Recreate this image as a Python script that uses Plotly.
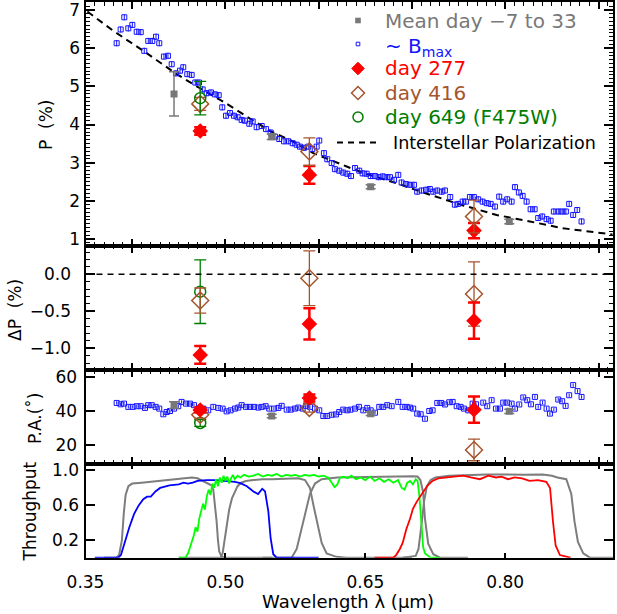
import plotly.graph_objects as go

# ---------------- data ----------------
bmax_lam = [0.3834,0.3877,0.3916,0.3959,0.4002,0.4049,0.4092,0.4130,0.4173,0.4216,
            0.4256,0.4291,0.4341,0.4384,0.4424,0.4470,0.4513,0.4548,0.4591,0.4638,
            0.4677,0.4717,0.4756,0.4799,0.4845,0.4888,0.4928,0.4966,0.5006,0.5049,
            0.5092,0.5131,0.5174,0.5209,0.5256,0.5292,0.5335,0.5389,0.5435,0.5485,
            0.5531,0.5577,0.5628,0.5674,0.5721,0.5764,0.5799,0.5842,0.5888,0.5931,
            0.5978,0.6006,0.6056,0.6092,
            0.6139,0.6174,0.6220,0.6263,0.6306,0.6346,0.6389,0.6435,0.6471,0.6514,
            0.6557,0.6603,0.6643,0.6686,0.6728,0.6764,0.6807,0.6853,0.6889,0.6935,
            0.6978,0.7021,0.7056,0.7103,0.7150,0.7192,0.7228,0.7271,0.7318,0.7353,
            0.7410,0.7460,0.7496,0.7543,0.7578,0.7621,0.7664,0.7710,0.7757,0.7800,
            0.7843,0.7889,0.7935,0.7978,0.8021,0.8068,0.8104,0.8146,0.8186,0.8229,
            0.8272,0.8315,0.8353,0.8396,0.8443,0.8486,0.8521,0.8568,0.8610,0.8650,
            0.8685,0.8728,0.8771,0.8818]
bmax_p = [6.13,6.49,6.81,6.52,6.61,6.43,6.42,5.93,6.19,6.19,
          6.30,6.13,5.78,5.80,5.58,5.34,5.41,5.50,5.32,5.30,
          5.10,5.10,4.92,4.82,4.84,4.79,4.77,4.45,4.23,4.30,
          4.23,4.19,4.12,4.10,4.02,4.08,3.93,3.96,3.88,3.79,
          3.68,3.62,3.56,3.56,3.51,3.47,3.42,3.39,3.42,3.36,
          3.42,3.58,3.25,3.09,
          2.99,2.83,2.79,2.74,2.71,2.65,2.86,2.79,2.72,2.71,
          2.65,2.65,2.62,2.64,2.62,2.62,2.55,2.68,2.48,2.44,
          2.42,2.42,2.24,2.27,2.29,2.31,2.24,2.27,2.24,2.27,
          2.10,1.90,1.92,1.98,1.98,2.10,2.10,2.04,1.98,1.94,
          1.92,1.85,2.11,1.98,2.04,1.98,2.36,2.22,2.13,1.98,
          1.78,1.78,1.55,1.59,1.52,1.48,1.72,1.72,1.72,1.72,
          1.92,1.63,1.76,1.46]

pa_lam = [0.3834,0.3877,0.3913,0.3959,0.4006,0.4049,0.4092,0.4138,0.4173,0.4210,
          0.4252,0.4291,0.4334,0.4370,0.4406,0.4449,0.4495,
          0.4530,0.4577,0.4620,0.4663,0.4709,0.4763,0.4816,0.4870,0.4923,0.4970,
          0.5013,0.5056,0.5102,0.5138,0.5174,0.5220,0.5263,0.5306,0.5352,0.5389,
          0.5431,0.5470,0.5520,0.5567,0.5603,0.5657,0.5700,0.5745,0.5781,0.5828,
          0.5863,0.5906,0.5960,0.6006,0.6049,0.6092,0.6139,0.6185,0.6220,0.6263,
          0.6306,0.6342,0.6389,0.6431,0.6478,0.6520,0.6557,0.6603,0.6649,0.6692,
          0.6735,0.6782,0.6853,0.6900,0.6943,
          0.6978,0.7013,0.7056,0.7093,0.7139,0.7185,0.7221,0.7271,0.7314,0.7353,
          0.7400,0.7436,0.7479,0.7521,0.7557,0.7603,0.7650,0.7686,0.7764,0.7807,
          0.7854,0.7900,0.7943,0.7978,0.8021,0.8068,0.8104,0.8150,0.8193,0.8236,
          0.8275,0.8318,0.8353,0.8400,0.8443,0.8479,0.8521,0.8568,0.8610,0.8647,
          0.8685,0.8728,0.8775,0.8818]
pa_val = [44.7,43.9,44.3,42.4,42.4,42.8,42.8,41.8,43.4,43.4,
          42.4,41.4,38.1,39.4,40.0,41.4,42.8,
          45.3,44.3,44.3,43.4,41.4,41.4,40.4,42.4,41.8,41.4,
          39.8,40.4,41.4,42.0,43.4,42.4,42.4,42.4,42.0,42.4,
          42.8,41.4,41.4,41.8,43.0,40.8,40.8,41.4,42.0,41.4,
          43.0,42.4,41.4,40.4,37.1,37.1,37.8,38.0,39.4,40.8,
          40.4,40.8,41.4,42.4,40.4,41.8,40.4,39.0,42.4,42.4,
          43.4,42.8,45.3,42.4,42.4,
          42.0,41.4,38.5,38.1,35.5,40.0,40.4,44.7,44.7,43.8,
          45.1,45.3,42.8,42.4,41.4,40.4,44.3,43.9,44.9,42.8,
          46.3,41.4,41.4,44.9,44.9,44.3,41.4,43.8,47.9,46.3,
          43.9,48.2,42.4,44.9,41.4,38.5,40.8,46.7,45.7,43.0,
          49.2,55.1,51.6,48.2]

mean_lam = [0.4449, 0.5496, 0.6557, 0.8043]
mean_p = [4.80, 3.68, 2.37, 1.46]
mean_p_err = [0.58, 0.07, 0.05, 0.06]
mean_pa = [43.4, 37.1, 38.4, 39.8]
mean_pa_err = [2.0, 1.0, 1.0, 1.2]

late_lam = [0.473, 0.590, 0.7665]
d277_p = [3.83, 2.68, 1.22]
d277_p_err = [0.10, 0.23, 0.20]
d416_p = [4.54, 3.29, 1.59]
d416_p_err = [0.17, 0.36, 0.43]
d649_lam = [0.473]
d649_p = [4.69]
d649_p_err = [0.44]

d277_dp = [-1.09, -0.67, -0.627]
d277_dp_err = [0.12, 0.21, 0.245]
d416_dp = [-0.355, -0.054, -0.266]
d416_dp_err = [0.17, 0.37, 0.435]
d649_dp = [-0.235]
d649_dp_err = [0.43]

d277_pa = [40.6, 47.6, 40.8]
d277_pa_err = [1.5, 2.0, 7.6]
d416_pa = [37.8, 41.8, 17.3]
d416_pa_err = [2.0, 2.4, 6.3]
d649_pa = [33.0]
d649_pa_err = [2.0]

isp_lam = [0.352, 0.380, 0.412, 0.4477, 0.4727, 0.4977, 0.5228, 0.5478, 0.5727,
           0.5942, 0.630, 0.6478, 0.6836, 0.7192, 0.755, 0.7907, 0.8264, 0.862,
           0.905, 0.915]
isp_p = [6.96, 6.45, 5.93, 5.32, 4.95, 4.60, 4.21, 3.83, 3.55,
         3.25, 2.90, 2.73, 2.46, 2.16, 1.88, 1.63, 1.46, 1.28,
         1.15, 1.12]

# filter throughputs
blue_lam = [0.360,0.385,0.388,0.392,0.397,0.402,0.407,0.412,0.416,0.420,
            0.425,0.430,0.440,0.450,0.455,0.460,0.465,0.470,0.480,0.490,
            0.500,0.505,0.510,0.516,0.523,0.530,0.535,0.5395,0.5425,0.546,
            0.5485,0.5513,0.555,0.600]
blue_t = [0.0,0.0,0.03,0.18,0.35,0.5,0.6,0.67,0.70,0.70,
          0.76,0.80,0.83,0.84,0.86,0.85,0.86,0.88,0.89,0.89,
          0.88,0.875,0.87,0.855,0.82,0.76,0.73,0.79,0.76,0.53,
          0.22,0.04,0.0,0.0]
green_lam = [0.450,0.457,0.460,0.463,0.466,0.468,0.470,0.472,0.474,0.476,
             0.478,0.480,0.482,0.484,0.486,0.488,0.490,0.492,0.494,0.496,
             0.498,0.500,0.502,0.504,0.506,0.508,0.510,0.513,0.516,0.520,
             0.525,0.530,0.535,0.540,0.545,0.550,0.555,0.560,0.565,0.570,
             0.575,0.580,0.585,0.590,0.595,0.600,0.605,0.610,0.614,0.617,
             0.620,0.623,0.627,0.631,0.635,0.640,0.645,0.650,0.655,0.660,
             0.665,0.670,0.675,0.680,0.685,0.689,0.692,0.695,0.698,0.701,
             0.704,0.706,0.708,0.710,0.712,0.714,0.717,0.720,0.730]
green_t = [0.0,0.0,0.05,0.15,0.25,0.35,0.30,0.45,0.55,0.62,
           0.55,0.70,0.78,0.72,0.85,0.80,0.90,0.82,0.92,0.86,
           0.94,0.88,0.93,0.85,0.91,0.95,0.90,0.94,0.92,0.95,
           0.93,0.94,0.96,0.93,0.95,0.94,0.96,0.93,0.95,0.94,
           0.95,0.93,0.95,0.94,0.95,0.93,0.94,0.92,0.86,0.81,
           0.84,0.92,0.93,0.91,0.94,0.90,0.92,0.89,0.93,0.88,
           0.91,0.87,0.90,0.86,0.89,0.80,0.78,0.86,0.88,0.84,
           0.90,0.88,0.70,0.35,0.12,0.05,0.02,0.0,0.0]
red_lam = [0.660,0.680,0.683,0.687,0.690,0.694,0.698,0.701,0.705,0.709,
           0.713,0.717,0.722,0.728,0.735,0.745,0.755,0.763,0.7728,0.7818,
           0.790,0.796,0.803,0.810,0.818,0.826,0.835,0.844,0.848,0.8512,
           0.854,0.8586,0.870]
red_t = [0.0,0.0,0.03,0.1,0.17,0.33,0.45,0.56,0.64,0.71,
         0.77,0.83,0.88,0.91,0.92,0.93,0.94,0.92,0.90,0.94,
         0.92,0.93,0.90,0.92,0.91,0.88,0.89,0.87,0.80,0.41,
         0.14,0.03,0.0]
g1_lam = [0.370,0.383,0.386,0.389,0.391,0.393,0.396,0.400,0.410,0.420,
          0.430,0.440,0.450,0.458,0.464,0.470,0.476,0.4816,0.485,0.487,
          0.489,0.4906,0.492,0.4934,0.496,0.500,0.550]
g1_t = [0.0,0.0,0.03,0.2,0.5,0.72,0.82,0.85,0.86,0.87,
        0.88,0.89,0.90,0.91,0.92,0.91,0.88,0.855,0.83,0.78,
        0.6,0.41,0.2,0.07,0.01,0.0,0.0]
g2_lam = [0.450,0.495,0.497,0.499,0.501,0.504,0.507,0.510,0.513,0.517,
          0.522,0.530,0.540,0.550,0.560,0.570,0.578,0.5853,0.5906,0.5942,
          0.5985,0.6032,0.6085,0.619,0.630,0.700]
g2_t = [0.0,0.0,0.05,0.2,0.38,0.55,0.68,0.76,0.82,0.86,
        0.88,0.89,0.90,0.90,0.905,0.91,0.91,0.89,0.80,0.61,
        0.38,0.17,0.05,0.01,0.0,0.0]
g3_lam = [0.540,0.571,0.5764,0.5807,0.5853,0.5906,0.596,0.6032,0.620,0.640,
          0.660,0.680,0.700,0.706,0.709,0.712,0.7139,0.7174,0.7228,0.730,0.760]
g3_t = [0.0,0.0,0.1,0.29,0.52,0.73,0.85,0.90,0.92,0.925,
        0.93,0.935,0.935,0.93,0.89,0.75,0.45,0.16,0.04,0.0,0.0]
g4_lam = [0.690,0.704,0.707,0.709,0.711,0.713,0.716,0.720,0.725,0.740,
          0.760,0.780,0.800,0.820,0.840,0.850,0.856,0.8654,0.8708,0.8743,
          0.8779,0.8836,0.8908,0.905,0.916]
g4_t = [0.0,0.02,0.1,0.25,0.45,0.65,0.82,0.89,0.92,0.94,
        0.95,0.955,0.955,0.95,0.955,0.94,0.92,0.90,0.73,0.41,
        0.18,0.05,0.0,0.0,0.0]

x_ticks = [0.35, 0.50, 0.65, 0.80]

legend_labels = ["Mean day \u22127 to 33", "~ B<sub>max</sub>", "day 277", "day 416",
                 "day 649 (F475W)", "Interstellar Polarization"]

# ---------------- styling ----------------
W, H = 617, 614
FONT = "DejaVu Sans"
BLUE = "rgb(20,20,255)"
RED = "rgb(255,0,0)"
BROWN = "rgb(165,85,45)"
GREEN = "rgb(0,125,0)"
GRAY = "rgb(120,120,120)"
FGRAY = "rgb(125,125,125)"
LIME = "rgb(0,255,0)"

def px_x(p):
    return p / W

def px_y(p):
    return 1 - p / H

xdom = [px_x(85.5), px_x(613)]
dom_top = [px_y(245.5), px_y(2)]
dom_dp = [px_y(370), px_y(245.5)]
dom_pa = [px_y(463.5), px_y(370)]
dom_th = [px_y(557.7), px_y(463.5)]
XR = [0.35, 0.9155]

fig = go.Figure()

def err(vals, color, thick, width):
    return dict(type="data", array=vals, visible=True, color=color,
                thickness=thick, width=width)

# ---- top panel ----
fig.add_trace(go.Scatter(x=isp_lam, y=isp_p, mode="lines",
    line=dict(color="black", width=2, dash="7px,5px"), xaxis="x", yaxis="y"))
fig.add_trace(go.Scatter(x=bmax_lam, y=bmax_p, mode="markers",
    marker=dict(symbol="square-open", size=5, color=BLUE, line=dict(width=1, color=BLUE)),
    error_y=dict(type="constant", value=0.08, color=BLUE, thickness=1, width=0),
    xaxis="x", yaxis="y"))
fig.add_trace(go.Scatter(x=mean_lam, y=mean_p, mode="markers",
    marker=dict(symbol="square", size=7, color=GRAY),
    error_y=err(mean_p_err, GRAY, 1.5, 5), xaxis="x", yaxis="y"))
fig.add_trace(go.Scatter(x=late_lam, y=d277_p, mode="markers",
    marker=dict(symbol="diamond", size=12, color=RED),
    error_y=err(d277_p_err, RED, 2.5, 6), xaxis="x", yaxis="y"))
fig.add_trace(go.Scatter(x=late_lam, y=d416_p, mode="markers",
    marker=dict(symbol="diamond-open", size=13, color=BROWN, line=dict(width=1.5, color=BROWN)),
    error_y=err(d416_p_err, BROWN, 1.3, 6), xaxis="x", yaxis="y"))
fig.add_trace(go.Scatter(x=d649_lam, y=d649_p, mode="markers",
    marker=dict(symbol="circle-open", size=11, color=GREEN, line=dict(width=1.5, color=GREEN)),
    error_y=err(d649_p_err, GREEN, 1.3, 6), xaxis="x", yaxis="y"))

# ---- delta P panel ----
fig.add_trace(go.Scatter(x=d649_lam, y=d649_dp, mode="markers",
    marker=dict(symbol="circle-open", size=11, color=GREEN, line=dict(width=1.5, color=GREEN)),
    error_y=err(d649_dp_err, GREEN, 1.3, 6), xaxis="x2", yaxis="y2"))
fig.add_trace(go.Scatter(x=late_lam, y=d416_dp, mode="markers",
    marker=dict(symbol="diamond-open", size=13, color=BROWN, line=dict(width=1.5, color=BROWN)),
    error_y=err(d416_dp_err, BROWN, 1.3, 6), xaxis="x2", yaxis="y2"))
fig.add_trace(go.Scatter(x=late_lam, y=d277_dp, mode="markers",
    marker=dict(symbol="diamond", size=12, color=RED),
    error_y=err(d277_dp_err, RED, 2.5, 6), xaxis="x2", yaxis="y2"))

# ---- PA panel ----
fig.add_trace(go.Scatter(x=pa_lam, y=pa_val, mode="markers",
    marker=dict(symbol="square-open", size=5, color=BLUE, line=dict(width=1, color=BLUE)),
    error_y=dict(type="constant", value=1.0, color=BLUE, thickness=1, width=0),
    xaxis="x3", yaxis="y3"))
fig.add_trace(go.Scatter(x=mean_lam, y=mean_pa, mode="markers",
    marker=dict(symbol="square", size=7, color=GRAY),
    error_y=err(mean_pa_err, GRAY, 1.5, 5), xaxis="x3", yaxis="y3"))
fig.add_trace(go.Scatter(x=d649_lam, y=d649_pa, mode="markers",
    marker=dict(symbol="circle-open", size=11, color=GREEN, line=dict(width=1.5, color=GREEN)),
    error_y=err(d649_pa_err, GREEN, 1.3, 6), xaxis="x3", yaxis="y3"))
fig.add_trace(go.Scatter(x=late_lam, y=d416_pa, mode="markers",
    marker=dict(symbol="diamond-open", size=13, color=BROWN, line=dict(width=1.5, color=BROWN)),
    error_y=err(d416_pa_err, BROWN, 1.3, 6), xaxis="x3", yaxis="y3"))
fig.add_trace(go.Scatter(x=late_lam, y=d277_pa, mode="markers",
    marker=dict(symbol="diamond", size=12, color=RED),
    error_y=err(d277_pa_err, RED, 2.5, 6), xaxis="x3", yaxis="y3"))

# ---- throughput panel ----
for lam, t, col, w in [(g1_lam, g1_t, FGRAY, 2), (g2_lam, g2_t, FGRAY, 2),
                       (g3_lam, g3_t, FGRAY, 2), (g4_lam, g4_t, FGRAY, 2),
                       (blue_lam, blue_t, "rgb(0,0,255)", 1.8),
                       (green_lam, green_t, LIME, 1.8),
                       (red_lam, red_t, RED, 1.8)]:
    fig.add_trace(go.Scatter(x=lam, y=t, mode="lines", line=dict(color=col, width=w),
                             xaxis="x4", yaxis="y4"))
fig.add_trace(go.Scatter(x=[None], y=[None], mode="markers",
                         xaxis="x5", yaxis="y4", hoverinfo="skip"))

# ---------------- axes ----------------
tickfont = dict(family=FONT, size=17, color="black")
minor_x = dict(ticks="inside", dtick=0.01, ticklen=3.5, tickwidth=1, tickcolor="black", showgrid=False)

def xax(anchor):
    return dict(domain=xdom, range=XR, anchor=anchor, showline=True, linewidth=2,
                linecolor="black", mirror="ticks", ticks="inside", ticklen=7,
                tickwidth=1.5, tickcolor="black", tick0=0.4, dtick=0.1,
                showticklabels=False, showgrid=False, zeroline=False, minor=minor_x)

def yax(dom, anchor, rng, tick0, dtick, fmt, standoff, minor_dtick=None):
    d = dict(domain=dom, range=rng, anchor=anchor,
             showline=True, linewidth=2, linecolor="black", mirror="ticks",
             ticks="inside", ticklen=9, tickwidth=1.5, tickcolor="black",
             tick0=tick0, dtick=dtick, tickformat=fmt, tickfont=tickfont,
             ticklabelstandoff=standoff, ticklabeloverflow="allow",
             showgrid=False, zeroline=False)
    if minor_dtick:
        d["minor"] = dict(ticks="inside", dtick=minor_dtick, ticklen=4.5,
                          tickwidth=1, tickcolor="black", showgrid=False)
    return d

ya1 = yax(dom_top, "x", [0.83, 7.21], 0, 1, "d", 0, 0.1)
ya2 = yax(dom_dp, "x2", [-1.293, 0.389], 0, 0.5, ".1f", 9, 0.1)
ya3 = yax(dom_pa, "x3", [9.4, 63.9], 0, 20, "d", 3)
ya4 = yax(dom_th, "x4", [0.0, 1.08], 0.2, 0.4, ".1f", 1)

xa4 = dict(domain=xdom, range=XR, anchor="y4", showline=True, linewidth=2,
           linecolor="black", mirror=True, ticks="inside", ticklen=5, tickwidth=1.5,
           tickcolor="black", tickmode="array", tickvals=x_ticks,
           ticktext=[f"{v:.2f}" for v in x_ticks], tickfont=tickfont,
           ticklabelstandoff=8, ticklabeloverflow="allow",
           showgrid=False, zeroline=False)
xa5 = dict(range=XR, overlaying="x4", anchor="y4", side="top", showline=False,
           ticks="inside", ticklen=5, tickwidth=1.5, tickcolor="black",
           tick0=0.4, dtick=0.1, showticklabels=False, showgrid=False, zeroline=False)

fig.update_layout(
    width=W, height=H, margin=dict(l=0, r=0, t=0, b=0, autoexpand=False),
    paper_bgcolor="white", plot_bgcolor="white",
    font=dict(family=FONT, color="black"),
    xaxis=xax("y"), xaxis2=xax("y2"), xaxis3=xax("y3"), xaxis4=xa4, xaxis5=xa5,
    yaxis=ya1, yaxis2=ya2, yaxis3=ya3, yaxis4=ya4,
    showlegend=False,
)

fig.add_shape(type="line", xref="x2 domain", x0=0, x1=1, yref="y2", y0=0, y1=0,
              line=dict(color="black", width=1.5, dash="6px,5px"))

# ---- legend (keys + coloured labels) ----
KX = 358
rows = [20.5, 44, 68.5, 93, 117, 142.5]
key_colors = [GRAY, BLUE, RED, BROWN, GREEN, "black"]
def box(cx, cy, h):
    return dict(x0=px_x(cx - h), x1=px_x(cx + h), y0=px_y(cy + h), y1=px_y(cy - h),
                xref="paper", yref="paper")
fig.add_shape(type="rect", **box(KX, rows[0], 2.8), fillcolor=GRAY, line=dict(width=0))
fig.add_shape(type="rect", **box(KX, rows[1], 1.8), fillcolor="rgba(0,0,0,0)",
              line=dict(color=BLUE, width=1))
def diamond(cx, cy, h):
    return (f"M {px_x(cx)} {px_y(cy - h)} L {px_x(cx + h)} {px_y(cy)} "
            f"L {px_x(cx)} {px_y(cy + h)} L {px_x(cx - h)} {px_y(cy)} Z")
fig.add_shape(type="path", path=diamond(KX, rows[2], 6.3), xref="paper", yref="paper",
              fillcolor=RED, line=dict(color=RED, width=1))
fig.add_shape(type="path", path=diamond(KX, rows[3], 6.5), xref="paper", yref="paper",
              fillcolor="rgba(0,0,0,0)", line=dict(color=BROWN, width=1.5))
fig.add_shape(type="circle", **box(KX, rows[4], 5), fillcolor="rgba(0,0,0,0)",
              line=dict(color=GREEN, width=1.5))
fig.add_shape(type="line", x0=px_x(337), x1=px_x(377), y0=px_y(rows[5]), y1=px_y(rows[5]),
              xref="paper", yref="paper", line=dict(color="black", width=2, dash="6px,5px"))

for i, (lab, col) in enumerate(zip(legend_labels, key_colors)):
    last = i == len(legend_labels) - 1
    fig.add_annotation(text=lab, x=px_x(391 if last else 383),
                       y=px_y(rows[i] + (3 if i == 1 else 0)),
                       xref="paper", yref="paper", showarrow=False,
                       xanchor="left", yanchor="middle",
                       font=dict(family=FONT, size=17.5 if last else 20, color=col))

def ytitle(text, xp, yp):
    fig.add_annotation(text=text, x=px_x(xp), y=px_y(yp), xref="paper", yref="paper",
                       textangle=-90, showarrow=False, xanchor="center", yanchor="middle",
                       font=dict(family=FONT, size=17, color="black"))

ytitle("P  (%)", 46, 125)
ytitle("\u0394P  (%)", 15, 310)
ytitle("P.A.(\u02da)", 35, 418)
ytitle("Throughput", 29.5, 512)
fig.add_annotation(text="Wavelength \u03bb (\u03bcm)", x=px_x(348), y=px_y(601),
                   xref="paper", yref="paper", showarrow=False,
                   xanchor="center", yanchor="middle",
                   font=dict(family=FONT, size=18, color="black"))

fig.write_html("out.html", config={"displayModeBar": False},
               post_script="document.body.style.margin='0px';document.body.style.overflow='hidden';")
